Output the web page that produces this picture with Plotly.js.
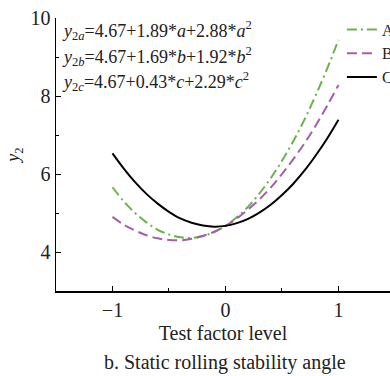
<!DOCTYPE html>
<html>
<head>
<meta charset="utf-8">
<script src="https://cdn.plot.ly/plotly-3.0.1.min.js"></script>
<style>html,body{margin:0;padding:0;background:#fff}#chart{width:390px;height:376px}</style>
</head>
<body>
<div id="chart"></div>
<script>
// Test factor levels (x)
var levels = [-1,-0.9,-0.8,-0.7,-0.6,-0.5,-0.4,-0.3,-0.2,-0.1,0,0.1,0.2,0.3,0.4,0.5,0.6,0.7,0.8,0.9,1];
// Series A (y2a)
var seriesA = [5.66,5.30,5.00,4.76,4.57,4.45,4.38,4.36,4.41,4.51,4.67,4.89,5.16,5.50,5.89,6.34,6.84,7.40,8.03,8.70,9.44];
// Series B (y2b)
var seriesB = [4.90,4.70,4.55,4.43,4.35,4.31,4.30,4.34,4.41,4.52,4.67,4.86,5.09,5.35,5.65,6.00,6.38,6.79,7.25,7.75,8.28];
// Series C (y2c)
var seriesC = [6.53,6.14,5.79,5.49,5.24,5.03,4.86,4.75,4.68,4.65,4.67,4.74,4.85,5.01,5.21,5.46,5.75,6.09,6.48,6.91,7.39];
var seriesNames = ['A','B','C'];
var equations = [
  '<i>y</i><sub>2<i>a</i></sub>=4.67+1.89*<i>a</i>+2.88*<i>a</i><sup>2</sup>',
  '<i>y</i><sub>2<i>b</i></sub>=4.67+1.69*<i>b</i>+1.92*<i>b</i><sup>2</sup>',
  '<i>y</i><sub>2<i>c</i></sub>=4.67+0.43*<i>c</i>+2.29*<i>c</i><sup>2</sup>'
];
var xTickVals = [-1,0,1];
var xTickText = ['\u22121','0','1'];
var yTickVals = [4,6,8,10];

var font = 'Liberation Serif, Times New Roman, serif';
var ink = '#222';
var traces = [
  {x: levels, y: seriesA, name: seriesNames[0], mode: 'lines', line: {color: '#6cb24a', width: 2, dash: '10px,4px,2px,4px', shape: 'spline'}},
  {x: levels, y: seriesB, name: seriesNames[1], mode: 'lines', line: {color: '#a35fa8', width: 2, dash: '10px,5px', shape: 'spline'}},
  {x: levels, y: seriesC, name: seriesNames[2], mode: 'lines', line: {color: '#000000', width: 2, dash: 'solid', shape: 'spline'}}
];

var eqY = [9.68, 9.02, 8.36];
var annotations = equations.map(function (t, i) {
  return {text: t, x: -1.465, y: eqY[i], xref: 'x', yref: 'y', xanchor: 'left', yanchor: 'middle',
    showarrow: false, font: {family: font, size: 18, color: ink}};
});
annotations.push({text: 'b. Static rolling stability angle', x: 0, y: -(362 - 291) / 273, xref: 'x', yref: 'paper',
  xanchor: 'center', yanchor: 'middle', showarrow: false, font: {family: font, size: 20, color: ink}});

var layout = {
  width: 390, height: 376,
  margin: {l: 56, r: 0, t: 18, b: 85, autoexpand: false},
  paper_bgcolor: '#fff', plot_bgcolor: '#fff',
  font: {family: font, size: 19, color: ink},
  showlegend: true,
  legend: {x: 0.856, y: 1.02, xanchor: 'left', yanchor: 'top', bgcolor: 'rgba(0,0,0,0)',
    font: {family: font, size: 16, color: ink}, tracegroupgap: 0},
  xaxis: {range: [-1.5, 1.456], showgrid: false, zeroline: false, showline: true, linecolor: '#000', linewidth: 1.5,
    tickmode: 'array', tickvals: xTickVals, ticktext: xTickText, ticks: 'inside', ticklen: 5, tickcolor: '#000',
    minor: {tickvals: [-0.5, 0.5], ticks: 'inside', ticklen: 3, tickcolor: '#000'},
    tickfont: {family: font, size: 20, color: ink},
    title: {text: 'Test factor level', font: {family: font, size: 20, color: ink}, standoff: 6}},
  yaxis: {range: [3, 10], showgrid: false, zeroline: false, showline: true, linecolor: '#000', linewidth: 1.5,
    tickmode: 'array', tickvals: yTickVals, ticks: 'inside', ticklen: 5, tickcolor: '#000',
    minor: {tickvals: [3, 5, 7, 9], ticks: 'inside', ticklen: 3, tickcolor: '#000'},
    tickfont: {family: font, size: 20, color: ink},
    title: {text: '<i>y</i><sub>2</sub>', font: {family: font, size: 18, color: ink}, standoff: 6}},
  annotations: annotations
};
Plotly.newPlot('chart', traces, layout, {displayModeBar: false, staticPlot: true});
</script>
</body>
</html>
